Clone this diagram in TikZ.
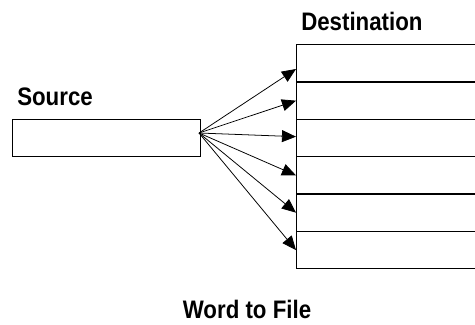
\documentclass[tikz,border=0pt]{standalone}
\usepackage{fontspec}
\newfontfamily\narrowsans[FakeStretch=0.88]{Liberation Sans}
\usetikzlibrary{arrows.meta}

\begin{document}
\begin{tikzpicture}[x=0.025cm, y=-0.025cm,
            box/.style={draw, line width=1pt, inner sep=0pt},
            row/.style={box, anchor=north west, minimum width=6cm,
                        minimum height=0.9333cm},
            heading/.style={inner sep=0pt, anchor=base west,
                            font=\narrowsans\bfseries\fontsize{18}{20}\selectfont},
            fanarrow/.style={line width=0.55pt,
                             -{Triangle[length=10pt, width=8.5pt]}}
        ]
            \useasboundingbox (0,0) rectangle (475,324);
            \clip (0,0) rectangle (475,324);

            \node[box, anchor=north west, minimum width=4.7cm,
                  minimum height=0.925cm] (src) at (12,119) {};
            \node[heading] (srclbl) at (17,105) {Source};

            \node[row] (r1) at (296,44.0) {};
            \node[row] (r2) at (296,81.3) {};
            \node[row] (r3) at (296,118.7) {};
            \node[row] (r4) at (296,156.0) {};
            \node[row] (r5) at (296,193.3) {};
            \node[row] (r6) at (296,230.7) {};
            \node[heading] (dstlbl) at (301,30) {Destination};

            \coordinate (fan) at (199,133);
            \draw[fanarrow] (fan) -- ([yshift=-4pt]r1.west);
            \draw[fanarrow] (fan) -- (r2.west);
            \draw[fanarrow] (fan) -- ([yshift=1pt]r3.west);
            \draw[fanarrow] (fan) -- (r4.west);
            \draw[fanarrow] (fan) -- (r5.west);
            \draw[fanarrow] (fan) -- (r6.west);

            \node[heading, anchor=base] (title) at (247,318) {Word to File};
        \end{tikzpicture}
\end{document}
